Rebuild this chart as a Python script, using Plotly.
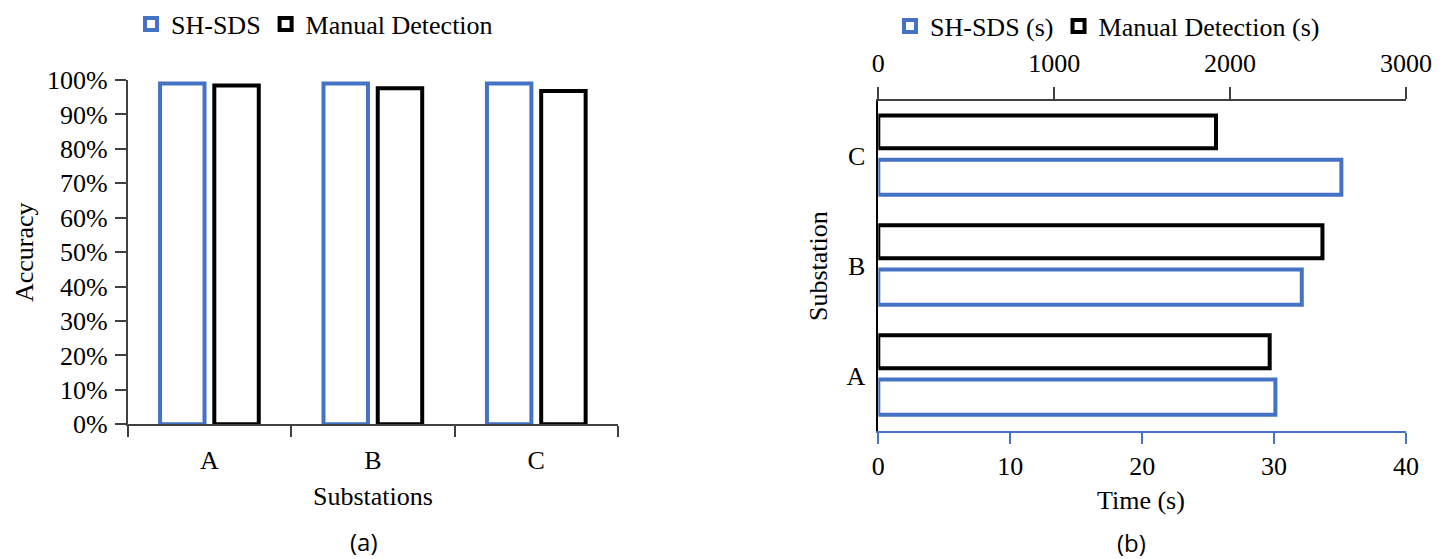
import plotly.graph_objects as go

# ---- data ----
substations = ["A", "B", "C"]
acc_shsds = [0.990, 0.990, 0.990]
acc_manual = [0.984, 0.976, 0.968]
time_shsds = [30.1, 32.1, 35.1]          # seconds (bottom axis)
time_manual = [2225, 2525, 1920]         # seconds (top axis)
acc_ticks = [i / 10 for i in range(11)]
time_ticks_bottom = [0, 10, 20, 30, 40]
time_ticks_top = [0, 1000, 2000, 3000]

BLUE = "#4472C4"
BLACK = "#000000"
AXC = "#404040"
SERIF = "Liberation Serif, Times New Roman, serif"
SANS = "Open Sans, Noto Sans, sans-serif"
FS = 26
W, H = 1450, 559


def px_x(v):
    return v / W


def px_y(v):
    return (H - v) / H


fig = go.Figure()

# ---- panel (a) ----
fig.add_trace(go.Bar(
    x=substations, y=acc_shsds, name="SH-SDS", xaxis="x", yaxis="y",
    width=0.272, offset=-0.302,
    marker=dict(color="rgba(255,255,255,0)", line=dict(color=BLUE, width=4)),
    legend="legend",
))
fig.add_trace(go.Bar(
    x=substations, y=acc_manual, name="Manual Detection", xaxis="x", yaxis="y",
    width=0.272, offset=0.030,
    marker=dict(color="rgba(255,255,255,0)", line=dict(color=BLACK, width=4)),
    legend="legend",
))

# ---- panel (b) ----
fig.add_trace(go.Bar(
    y=substations, x=time_shsds, name="SH-SDS (s)", orientation="h",
    xaxis="x2", yaxis="y2", width=0.32, offset=-0.354,
    marker=dict(color="rgba(255,255,255,0)", line=dict(color=BLUE, width=4)),
    legend="legend2",
))
fig.add_trace(go.Bar(
    y=substations, x=time_manual, name="Manual Detection (s)", orientation="h",
    xaxis="x3", yaxis="y2", width=0.30, offset=0.069,
    marker=dict(color="rgba(255,255,255,0)", line=dict(color=BLACK, width=4)),
    legend="legend2",
))

tickfont = dict(family=SERIF, size=FS, color="black")
titlefont = dict(family=SERIF, size=FS, color="black")
labelfont = dict(family=SANS, size=24, color="black")


def label(text, x, y, font, angle=0):
    return dict(text=text, x=px_x(x), y=px_y(y), xref="paper", yref="paper",
                xanchor="center", yanchor="middle", textangle=angle,
                showarrow=False, font=font)


fig.update_layout(
    width=W, height=H,
    margin=dict(l=0, r=0, t=0, b=0, autoexpand=False),
    paper_bgcolor="white", plot_bgcolor="white",
    barmode="overlay",
    font=dict(family=SERIF, size=FS, color="black"),
    xaxis=dict(
        domain=[px_x(127.7), px_x(618)], anchor="y", automargin=False,
        type="category", categoryorder="array", categoryarray=substations,
        showline=True, linecolor=AXC, linewidth=1.5,
        ticks="outside", tickson="boundaries", ticklen=11, tickcolor=AXC, tickwidth=1.5,
        showgrid=False, zeroline=False, tickfont=tickfont, ticklabelstandoff=12,
    ),
    yaxis=dict(
        domain=[px_y(424.3), px_y(80)], anchor="x", automargin=False,
        range=[0, 1], tickvals=acc_ticks, tickformat=".0%",
        showline=True, linecolor=AXC, linewidth=1.5,
        ticks="outside", ticklen=11, tickcolor=AXC, tickwidth=1.5,
        showgrid=False, zeroline=False, tickfont=tickfont, ticklabelstandoff=2,
    ),
    xaxis2=dict(
        domain=[px_x(878.3), px_x(1406)], anchor="y2", automargin=False,
        range=[0, 40], tickvals=time_ticks_bottom,
        showline=True, linecolor=BLUE, linewidth=2,
        ticks="outside", ticklen=11, tickcolor=BLUE, tickwidth=1.5,
        showgrid=False, zeroline=False, tickfont=tickfont, ticklabelstandoff=0,
    ),
    xaxis3=dict(
        overlaying="x2", side="top", anchor="y2", automargin=False,
        range=[0, 3000], tickvals=time_ticks_top,
        showline=True, linecolor=AXC, linewidth=1.5,
        ticks="outside", ticklen=12, tickcolor=AXC, tickwidth=1.5,
        showgrid=False, zeroline=False, tickfont=tickfont, ticklabelstandoff=5,
    ),
    yaxis2=dict(
        domain=[px_y(430.7), px_y(101)], anchor="x2", automargin=False,
        type="category", categoryorder="array", categoryarray=substations,
        range=[-0.5, 2.5],
        showline=True, linecolor=BLACK, linewidth=1.5,
        ticks="", showgrid=False, zeroline=False, tickfont=tickfont, ticklabelstandoff=6,
    ),
    legend=dict(
        orientation="h", x=px_x(131), xanchor="left", y=px_y(24), yanchor="middle",
        font=dict(family=SERIF, size=FS), bgcolor="rgba(0,0,0,0)",
        itemclick=False, tracegroupgap=0,
    ),
    legend2=dict(
        orientation="h", x=px_x(890), xanchor="left", y=px_y(26), yanchor="middle",
        font=dict(family=SERIF, size=FS), bgcolor="rgba(0,0,0,0)",
        itemclick=False, tracegroupgap=0,
    ),
    annotations=[
        label("Accuracy", 25, 252, titlefont, -90),
        label("Substations", 372.8, 496, titlefont),
        label("Substation", 818, 266, titlefont, -90),
        label("Time (s)", 1141, 500, titlefont),
        label("(a)", 364, 541.5, labelfont),
        label("(b)", 1131, 542, labelfont),
    ],
    showlegend=True,
)

fig.write_html(
    "out.html",
    config={"displayModeBar": False},
    post_script="document.body.style.margin='0';document.body.style.overflow='hidden';",
)
